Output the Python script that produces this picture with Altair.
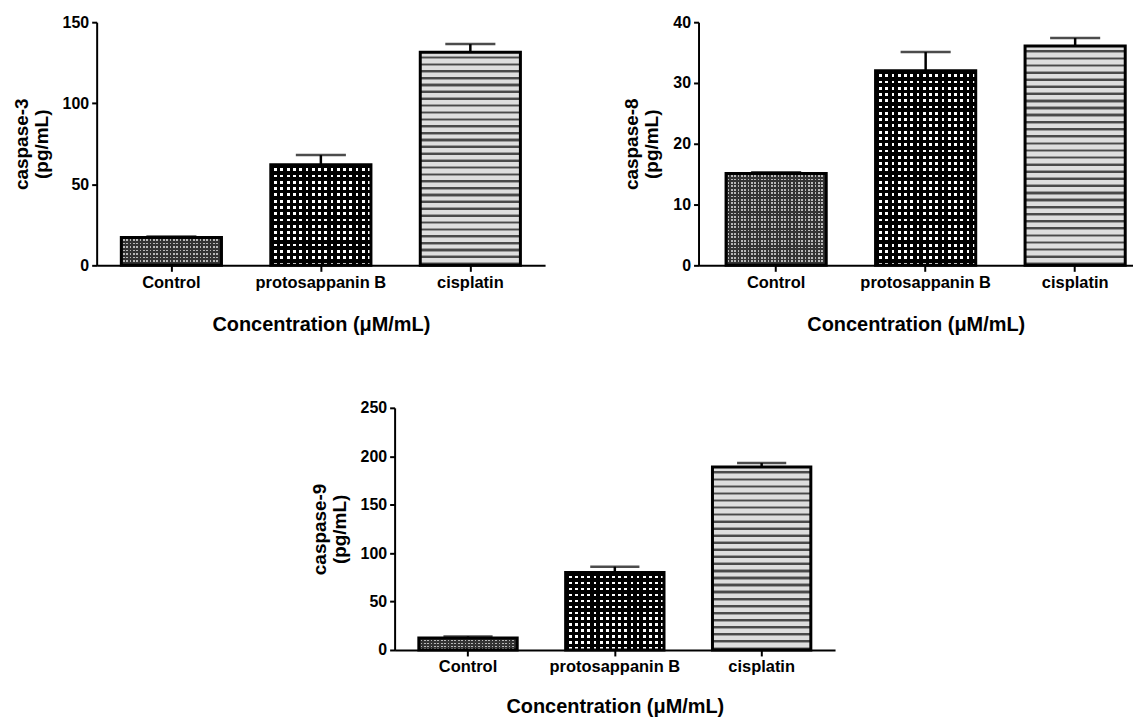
import altair as alt
import pandas as pd

categories = ["Control", "protosappanin B", "cisplatin"]

c3_mean = [17.2, 62.0, 131.5]
c3_upper = [17.8, 68.0, 136.5]

c8_mean = [15.1, 32.0, 36.1]
c8_upper = [15.3, 35.1, 37.4]

c9_mean = [12.3, 80.0, 189.0]
c9_upper = [14.0, 86.0, 193.0]

x_title = "Concentration (μM/mL)"
FONT = "Liberation Sans"
CLEAR = "rgba(0,0,0,0)"

# pattern definitions (period in px, stripe segments)
PATTERNS = {
    "Control": ("checker", 3.4, [("#333333", 0.5), ("#b8b8b8", 0.5)], [("#333333", 0.5), (CLEAR, 0.5)]),
    "protosappanin B": ("checker", 6.2, [("#000000", 0.55), ("#ffffff", 0.45)], [("#000000", 0.55), (CLEAR, 0.45)]),
    "cisplatin": ("stripes", 7.0, [("#dedede", 0.55), ("#9a9a9a", 0.1), ("#4a4a4a", 0.25), ("#9a9a9a", 0.1)], None),
}


def make_stops(n, segments):
    out = []
    for i in range(n):
        pos = 0.0
        for color, frac in segments:
            a = (i + pos) / n
            b = (i + pos + frac) / n
            out.append(alt.GradientStop(offset=round(min(a, 1.0), 5), color=color))
            out.append(alt.GradientStop(offset=round(min(b, 1.0), 5), color=color))
            pos += frac
    return out


def gradient(n, segments, along_x):
    if along_x:
        return alt.LinearGradient(gradient="linear", stops=make_stops(n, segments), x1=0, y1=0, x2=1, y2=0)
    return alt.LinearGradient(gradient="linear", stops=make_stops(n, segments), x1=0, y1=0, x2=0, y2=1)


def panel(means, uppers, ymax, yvalues, ytitle, W, H, po=0.165, align=0.5, xtitle_pad=24):
    df = pd.DataFrame({"cat": categories, "mean": means, "upper": uppers})
    pin = 0.33
    step = W / (3 - pin + 2 * po)
    bw = step * (1 - pin)
    xs = alt.X("cat:N", sort=categories,
               scale=alt.Scale(domain=categories, paddingInner=pin, paddingOuter=po, align=align),
               axis=alt.Axis(title=x_title, labelAngle=0, titlePadding=xtitle_pad))
    yscale = alt.Scale(domain=[0, ymax], nice=False, zero=True)
    yaxis = alt.Axis(title=ytitle, values=yvalues, format="d")
    base = alt.Chart(df)
    layers = []
    for cat, m in zip(categories, means):
        kind, period, seg1, seg2 = PATTERNS[cat]
        h = m / ymax * H
        sub = base.transform_filter(alt.datum.cat == cat)
        enc = dict(x=xs, y=alt.Y("mean:Q", scale=yscale, axis=yaxis))
        if kind == "checker":
            nx = max(1, round(bw / period))
            ny = max(1, round(h / period))
            layers.append(sub.mark_bar(fill=gradient(nx, seg1, True)).encode(**enc))
            layers.append(sub.mark_bar(fill=gradient(ny, seg2, False), stroke="black", strokeWidth=3).encode(**enc))
        else:
            ny = max(1, round(h / period))
            layers.append(sub.mark_bar(fill=gradient(ny, seg1, False), stroke="black", strokeWidth=3).encode(**enc))
    rule = base.mark_rule(color="black", strokeWidth=2.5).encode(
        x=xs, y=alt.Y("mean:Q", scale=yscale, axis=yaxis), y2="upper:Q")
    tick = base.mark_tick(color="black", thickness=2.5, size=bw / 2).encode(
        x=xs, y=alt.Y("upper:Q", scale=yscale, axis=yaxis))
    return alt.layer(*layers, rule, tick).properties(width=W, height=H)


p1 = panel(c3_mean, c3_upper, 150, [0, 50, 100, 150], ["caspase-3", "(pg/mL)"], 450, 244)
p2 = panel(c8_mean, c8_upper, 40, [0, 10, 20, 30, 40], ["caspase-8", "(pg/mL)"], 436, 244, po=0.118, align=0.78)
p3 = panel(c9_mean, c9_upper, 250, [0, 50, 100, 150, 200, 250], ["caspase-9", "(pg/mL)"], 442, 243, xtitle_pad=21)

chart = alt.vconcat(
    alt.hconcat(p1, p2, spacing=78),
    p3,
    spacing=65,
    center=True,
).properties(
    padding={"left": 12, "top": 13, "right": 0, "bottom": 0}
).configure_view(
    stroke=None
).configure_axis(
    domainColor="black", domainWidth=2, tickColor="black", tickWidth=2,
    labelFont=FONT, labelFontWeight="bold", labelColor="black",
    titleFont=FONT, titleFontWeight="bold", titleFontSize=20, titleColor="black",
    grid=False,
).configure_axisX(
    tickSize=6, labelPadding=3, labelFontSize=16.5
).configure_axisY(
    tickSize=5, labelPadding=3, labelFontSize=16, titlePadding=11, titleLineHeight=20, titleFontSize=19
)

chart.save("out.html", embed_options={"renderer": "svg", "actions": False})
